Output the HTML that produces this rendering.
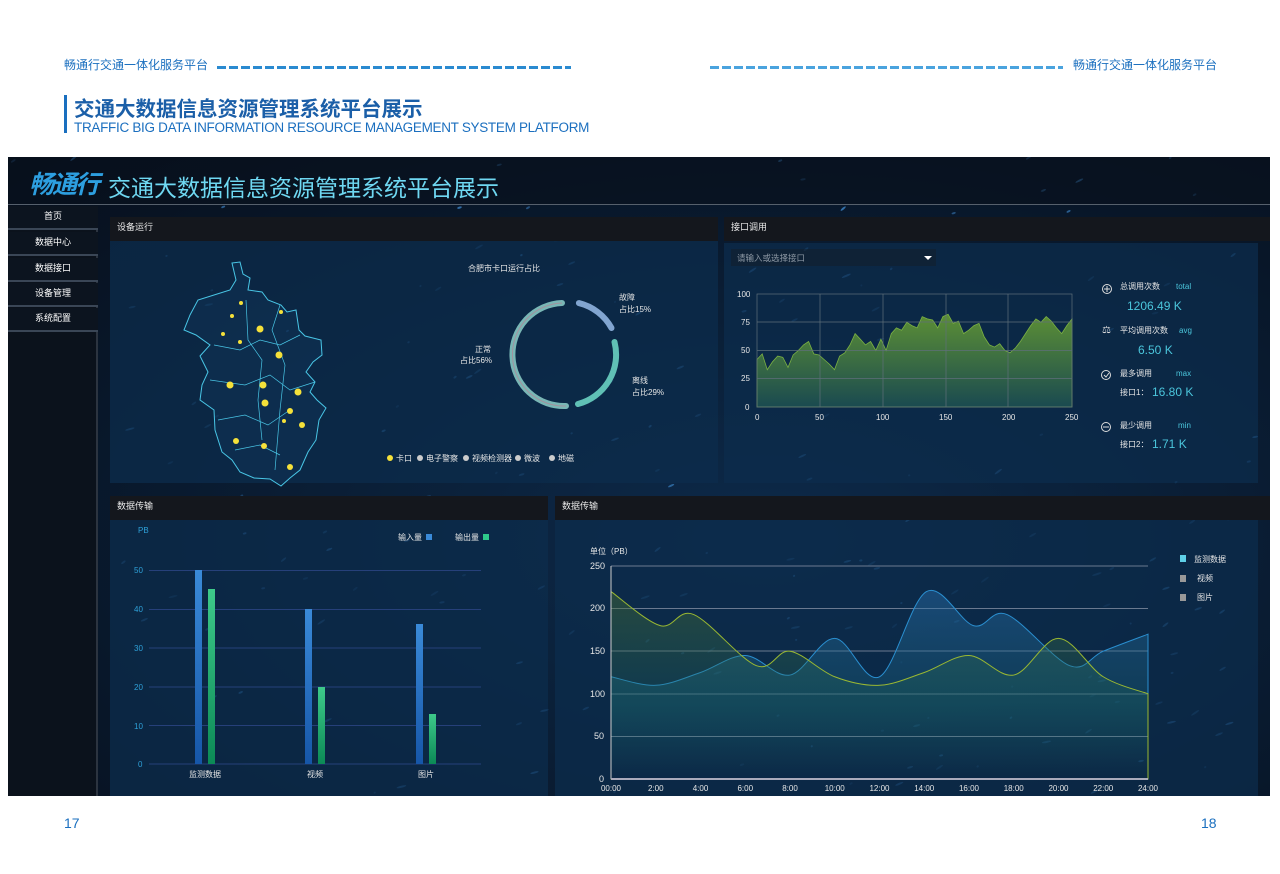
<!DOCTYPE html>
<html><head><meta charset="utf-8">
<style>
*{margin:0;padding:0;box-sizing:border-box}
body{width:1280px;height:874px;background:#fff;position:relative;overflow:hidden;font-family:"Liberation Sans","Noto Sans CJK SC",sans-serif}
.a{position:absolute}
.hd{color:#1a6fbf;font-size:12px}
.dash{height:3px;background:repeating-linear-gradient(90deg,#4aa3de 0 9px,transparent 9px 12px)}
.dash1{background:repeating-linear-gradient(90deg,#2a8ad0 0 9px,transparent 9px 12px)}
.box{left:8px;top:157px;width:1262px;height:639px;background:radial-gradient(ellipse at 60% 60%,#0d2a4a,#081628 70%,#070f1c);overflow:hidden}
.side div{position:absolute;left:0;width:90px;height:24px;color:#fff;font-size:9px;text-align:center;line-height:20px;background:#0c141f;border-bottom:2px solid #3a4656}
.tb{background:#14171d;color:#e8e8e8;font-size:9px;padding-left:7px;line-height:20px}
.ct{background:rgba(12,44,76,0.75)}
</style></head><body>
<div class="a hd" style="left:64px;top:56px">畅通行交通一体化服务平台</div>
<div class="a dash dash1" style="left:217px;top:66px;width:354px"></div>
<div class="a dash" style="left:710px;top:66px;width:353px"></div>
<div class="a hd" style="left:1073px;top:56px">畅通行交通一体化服务平台</div>
<div class="a" style="left:64px;top:95px;width:3px;height:38px;background:#1a6fbf"></div>
<div class="a" style="left:74px;top:92px;color:#1b5fa8;font-size:20.5px;font-weight:bold">交通大数据信息资源管理系统平台展示</div>
<div class="a" style="left:74px;top:120px;color:#1b6fbf;font-size:13.5px;letter-spacing:-0.3px">TRAFFIC BIG DATA INFORMATION RESOURCE MANAGEMENT SYSTEM PLATFORM</div>
<div class="a" style="left:64px;top:815px;color:#1a6fbf;font-size:14px">17</div>
<div class="a" style="left:1201px;top:815px;color:#1a6fbf;font-size:14px">18</div>

<div class="a box">
 <svg class="a" style="left:0;top:0" width="1262" height="639" id="stars"></svg>
 <div class="a" style="left:0;top:0;width:1262px;height:48px;background:rgba(8,16,28,0.6);border-bottom:1px solid #56606c"></div>
 <div class="a" style="left:21px;top:8px;color:#2d9fe0;font-size:25px;font-weight:bold;font-style:italic;letter-spacing:-2px">畅通行</div>
 <div class="a" style="left:100px;top:12px;color:#6fd8f2;font-size:23px">交通大数据信息资源管理系统平台展示</div>
 <div class="a side" style="left:0;top:49px;width:90px;height:590px;background:#0b121c;border-right:2px solid #2c3440">
  <div style="top:0">首页</div><div style="top:26px">数据中心</div><div style="top:52px">数据接口</div><div style="top:77px">设备管理</div><div style="top:102px">系统配置</div>
 </div>
 <div class="a tb" style="left:102px;top:60px;width:608px;height:24px">设备运行</div>
 <div class="a ct" style="left:102px;top:84px;width:608px;height:242px"></div>
 <div class="a tb" style="left:716px;top:60px;width:546px;height:24px">接口调用</div>
 <div class="a ct" style="left:716px;top:86px;width:534px;height:240px"></div>
 <div class="a tb" style="left:102px;top:339px;width:438px;height:24px">数据传输</div>
 <div class="a ct" style="left:102px;top:363px;width:438px;height:276px"></div>
 <div class="a tb" style="left:547px;top:339px;width:715px;height:24px">数据传输</div>
 <div class="a ct" style="left:547px;top:363px;width:703px;height:276px"></div>
</div>

<svg class="a" style="left:0;top:0" width="1280" height="874" font-family="Liberation Sans,Noto Sans CJK SC,sans-serif">
 <path d="M232,263 L240,262 L243,274 L250,278 L248,290 L262,292 L268,300 L281,305 L287,312 L296,310 L299,330 L305,336 L321,340 L322,355 L313,362 L306,372 L315,382 L310,392 L317,400 L326,408 L319,420 L316,440 L308,452 L300,470 L290,478 L281,486 L270,479 L254,478 L240,472 L232,460 L222,452 L215,430 L214,410 L200,400 L202,385 L208,372 L200,356 L210,345 L196,335 L184,330 L190,315 L198,300 L214,295 L230,290 L236,280 Z" fill="rgba(20,60,100,0.3)" stroke="#49c6e6" stroke-width="1"/>
 <path d="M214,345 L240,350 L260,340 L280,345 L300,335 M210,380 L245,385 L270,375 L290,390 L315,382 M218,420 L245,415 L268,425 L290,410 M235,450 L260,445 L280,455 M246,300 L248,340 L262,360 L258,400 L262,440 M280,305 L272,330 L285,365 L280,410 L275,470" fill="none" stroke="#49c6e6" stroke-width="0.7"/>
 <g fill="#f5e13a">
  <circle cx="241" cy="303" r="2"/><circle cx="232" cy="316" r="2"/><circle cx="281" cy="312" r="2"/><circle cx="260" cy="329" r="3.5"/><circle cx="223" cy="334" r="2"/><circle cx="240" cy="342" r="2"/><circle cx="279" cy="355" r="3.5"/><circle cx="230" cy="385" r="3.5"/><circle cx="263" cy="385" r="3.5"/><circle cx="298" cy="392" r="3.5"/><circle cx="265" cy="403" r="3.5"/><circle cx="290" cy="411" r="3"/><circle cx="302" cy="425" r="3"/><circle cx="284" cy="421" r="2"/><circle cx="236" cy="441" r="3"/><circle cx="264" cy="446" r="3"/><circle cx="290" cy="467" r="3"/>
 </g>
 <text x="468" y="271" fill="#e6e6e6" font-size="8">合肥市卡口运行占比</text>
 <g fill="none" stroke-width="6" stroke-linecap="round" opacity="0.9">
  <path d="M578.9,303.1 A51,51 0 0 1 611.5,328" stroke="#8fb3e0"/>
  <path d="M614.5,342 A51,51 0 0 1 578,404" stroke="#6ad1c2"/>
  <path d="M566,406 A51,51 0 1 1 562,303" stroke="#85c6c2"/>
 </g>
 <path d="M566,406 A51,51 0 1 1 562,303" fill="none" stroke="#c07a90" stroke-width="1" opacity="0.6"/>
 <g fill="#e6e6e6" font-size="8">
  <text x="619" y="300">故障</text><text x="619" y="312">占比15%</text>
  <text x="475" y="352">正常</text><text x="460" y="363">占比56%</text>
  <text x="632" y="383">离线</text><text x="632" y="395">占比29%</text>
 </g>
 <g font-size="8" fill="#e6e6e6">
  <circle cx="390" cy="458" r="3" fill="#f5e13a"/><text x="396" y="461">卡口</text>
  <circle cx="420" cy="458" r="3" fill="#ccc"/><text x="426" y="461">电子警察</text>
  <circle cx="466" cy="458" r="3" fill="#ccc"/><text x="472" y="461">视频检测器</text>
  <circle cx="518" cy="458" r="3" fill="#ccc"/><text x="524" y="461">微波</text>
  <circle cx="552" cy="458" r="3" fill="#ccc"/><text x="558" y="461">地磁</text>
 </g>
 <rect x="731" y="249" width="205" height="17" fill="rgba(20,30,40,0.5)"/>
 <text x="737" y="261" fill="#8d98a4" font-size="8.5">请输入或选择接口</text>
 <path d="M924,256 L932,256 L928,260 Z" fill="#fff"/>
 <defs>
  <linearGradient id="g1" x1="0" y1="0" x2="0" y2="1"><stop offset="0" stop-color="#5c8f35"/><stop offset="1" stop-color="#1a4a50"/></linearGradient>
  <linearGradient id="g2" x1="0" y1="0" x2="0" y2="1"><stop offset="0" stop-color="#3a8ad8"/><stop offset="1" stop-color="#1656a8"/></linearGradient>
  <linearGradient id="g3" x1="0" y1="0" x2="0" y2="1"><stop offset="0" stop-color="#3ec98a"/><stop offset="1" stop-color="#0c8a56"/></linearGradient>
  <linearGradient id="gb" x1="0" y1="0" x2="0" y2="1"><stop offset="0" stop-color="#2a70b0" stop-opacity="0.45"/><stop offset="0.6" stop-color="#1a6a80" stop-opacity="0.3"/><stop offset="1" stop-color="#1a6a80" stop-opacity="0"/></linearGradient>
  <linearGradient id="gg" x1="0" y1="0" x2="0" y2="1"><stop offset="0" stop-color="#4a7030" stop-opacity="0.45"/><stop offset="0.6" stop-color="#1e6a60" stop-opacity="0.25"/><stop offset="1" stop-color="#1e6a60" stop-opacity="0"/></linearGradient>
 </defs>
 <path id="area1" fill="url(#g1)" stroke="#7bb043" stroke-width="0.8"/>
 <g stroke="#5f6f7a" stroke-width="0.7" fill="none">
  <rect x="757" y="294" width="315" height="113"/>
  <path d="M757,322 H1072 M757,350.5 H1072 M757,378.5 H1072 M820,294 V407 M883,294 V407 M946,294 V407 M1008,294 V407"/>
 </g>
 <g fill="#e6e6e6" font-size="8">
  <text x="737" y="297">100</text><text x="741" y="325">75</text><text x="741" y="353">50</text><text x="741" y="381">25</text><text x="745" y="410">0</text>
  <text x="755" y="420">0</text><text x="815" y="420">50</text><text x="876" y="420">100</text><text x="939" y="420">150</text><text x="1002" y="420">200</text><text x="1065" y="420">250</text>
 </g>
 <g font-size="8" fill="#e6e6e6">
  <circle cx="1107" cy="289" r="4.5" fill="none" stroke="#ddd"/><path d="M1104,289H1110M1107,286V292" stroke="#ddd"/>
  <text x="1120" y="289">总调用次数</text><text x="1176" y="289" fill="#4bc6dc">total</text>
  <text x="1127" y="310" fill="#4bc6dc" font-size="12">1206.49  K</text>
  <text x="1102" y="333" fill="#ddd" font-size="10">⚖</text>
  <text x="1120" y="333">平均调用次数</text><text x="1179" y="333" fill="#4bc6dc">avg</text>
  <text x="1138" y="354" fill="#4bc6dc" font-size="12">6.50  K</text>
  <circle cx="1106" cy="375" r="4.5" fill="none" stroke="#ddd"/><path d="M1104,375L1106,377L1109,373" stroke="#ddd" fill="none"/>
  <text x="1120" y="376">最多调用</text><text x="1176" y="376" fill="#4bc6dc">max</text>
  <text x="1120" y="395">接口1：</text><text x="1152" y="396" fill="#4bc6dc" font-size="12">16.80  K</text>
  <circle cx="1106" cy="427" r="4.5" fill="none" stroke="#ddd"/><path d="M1103,427H1109" stroke="#ddd"/>
  <text x="1120" y="428">最少调用</text><text x="1178" y="428" fill="#4bc6dc">min</text>
  <text x="1120" y="447">接口2：</text><text x="1152" y="448" fill="#4bc6dc" font-size="12">1.71  K</text>
 </g>
 <g stroke="#26407a" stroke-width="1">
  <path d="M149,570.5H481M149,609.5H481M149,648H481M149,687H481M149,725.5H481M149,764H481"/>
 </g>
 <g fill="#2ea0d8" font-size="8">
  <text x="138" y="533">PB</text>
  <text x="134" y="573">50</text><text x="134" y="612">40</text><text x="134" y="651">30</text><text x="134" y="690">20</text><text x="134" y="729">10</text><text x="138" y="767">0</text>
 </g>
 <g>
  <rect x="195" y="570" width="7" height="194" fill="url(#g2)"/><rect x="208" y="589" width="7" height="175" fill="url(#g3)"/>
  <rect x="305" y="609" width="7" height="155" fill="url(#g2)"/><rect x="318" y="687" width="7" height="77" fill="url(#g3)"/>
  <rect x="416" y="624" width="7" height="140" fill="url(#g2)"/><rect x="429" y="714" width="7" height="50" fill="url(#g3)"/>
 </g>
 <g fill="#e6e6e6" font-size="8">
  <text x="189" y="777">监测数据</text><text x="307" y="777">视频</text><text x="418" y="777">图片</text>
  <text x="398" y="540">输入量</text><rect x="426" y="534" width="6" height="6" fill="#3a8ad8"/>
  <text x="455" y="540">输出量</text><rect x="483" y="534" width="6" height="6" fill="#2ec98a"/>
 </g>
 <g stroke="#8a94a8" stroke-width="0.8"><path d="M611,566H1148M611,608.5H1148M611,651H1148M611,694H1148M611,736.5H1148"/></g>
 <path id="blue" fill="url(#gb)" stroke="#2a8fd0" stroke-width="1"/>
 <path id="green" fill="url(#gg)" stroke="#9ab832" stroke-width="1"/>
 <path d="M611,566V779" stroke="#ccc" fill="none" stroke-width="1"/>
 <path d="M611,779H1148" stroke="#aab" fill="none" stroke-width="2"/>
 <g fill="#e6e6e6" font-size="9">
  <text x="590" y="569">250</text><text x="590" y="611">200</text><text x="590" y="654">150</text><text x="590" y="697">100</text><text x="594" y="739">50</text><text x="599" y="782">0</text>
  <text x="590" y="554" font-size="8">单位（PB）</text>
 </g>
 <g id="xt" fill="#e6e6e6" font-size="8"></g>
 <g fill="#e6e6e6" font-size="8">
  <rect x="1180" y="555" width="6" height="7" fill="#5fd0e8"/><text x="1194" y="562">监测数据</text>
  <rect x="1180" y="575" width="6" height="7" fill="#999"/><text x="1197" y="581">视频</text>
  <rect x="1180" y="594" width="6" height="7" fill="#999"/><text x="1197" y="600">图片</text>
 </g>
</svg>
<script>
var s=document.getElementById('stars'),h='',r=7;
function rnd(){r=(r*16807)%2147483647;return r/2147483647}
for(var i=0;i<220;i++){var x=rnd()*1262,y=rnd()*639,w=1+rnd()*4;h+='<ellipse cx="'+x+'" cy="'+y+'" rx="'+w+'" ry="1" fill="#3f8ad0" opacity="'+(0.3+rnd()*0.5)+'" transform="rotate('+(-40+rnd()*30)+' '+x+' '+y+')"/>'}
s.innerHTML=h;
var v=[42,47,33,40,45,44,35,46,50,55,58,47,46,42,38,33,45,48,55,65,60,55,58,50,60,50,65,70,68,75,72,70,80,78,77,70,80,82,74,76,65,68,72,74,62,55,53,56,50,48,52,58,65,72,78,75,80,76,70,65,72,78];
var d='M757,407';for(i=0;i<v.length;i++){var x=757+315*i/(v.length-1),y=407-v[i]*1.13;d+=' L'+x.toFixed(1)+','+y.toFixed(1)}
d+=' L1072,407 Z';document.getElementById('area1').setAttribute('d',d);
function curve(vals,id){var pts=vals.map(function(p){return[611+22.375*p[0],779-p[1]*0.852]});
 var d='M'+pts[0][0]+','+pts[0][1];
 for(var i=0;i<pts.length-1;i++){var p0=pts[i-1]||pts[i],p1=pts[i],p2=pts[i+1],p3=pts[i+2]||p2;
  var c1=[p1[0]+(p2[0]-p0[0])/6,p1[1]+(p2[1]-p0[1])/6],c2=[p2[0]-(p3[0]-p1[0])/6,p2[1]-(p3[1]-p1[1])/6];
  d+=' C'+c1[0]+','+c1[1]+' '+c2[0]+','+c2[1]+' '+p2[0]+','+p2[1]}
 d+=' L1148,779 L611,779 Z';document.getElementById(id).setAttribute('d',d)}
curve([[0,220],[2.2,180],[3.7,193],[6.5,133],[8,150],[10,120],[12,110],[14,125],[16,145],[18,122],[20,165],[22,120],[24,100]],'green');
curve([[0,120],[2,110],[4,125],[6,145],[8,122],[10,165],[12,120],[14.1,220],[16.2,180],[17.7,193],[20.5,133],[22,150],[24,170]],'blue');
var t='';for(i=0;i<=12;i++){var hh=i*2,lab=i==0?'00:00':hh+':00';t+='<text text-anchor="middle" x="'+(611+44.75*i)+'" y="791">'+lab+'</text>'}
document.getElementById('xt').innerHTML=t;
</script>
</body></html>
